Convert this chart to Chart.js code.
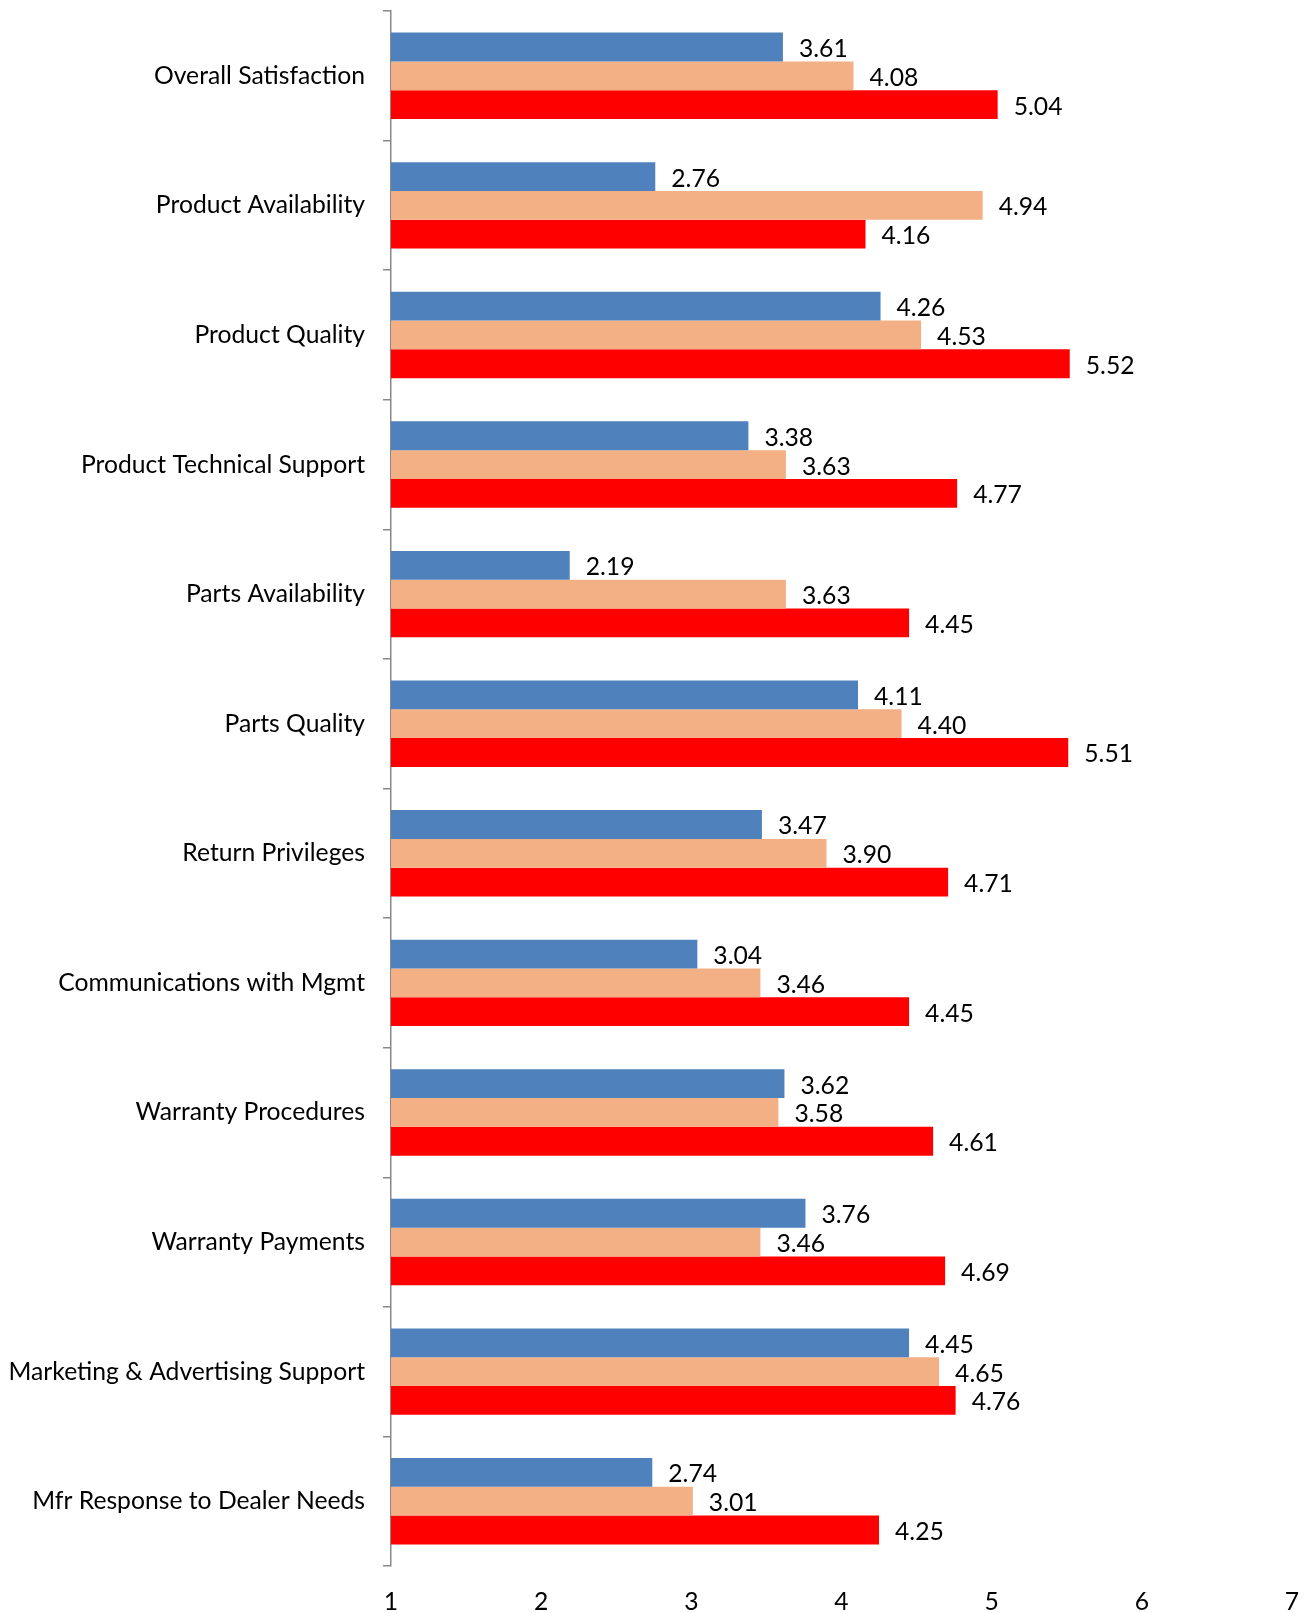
<!DOCTYPE html>
<html>
<head>
<meta charset="utf-8">
<script src="https://cdn.jsdelivr.net/npm/chart.js@4.4.1/dist/chart.umd.min.js"></script>
<style>
  html, body { margin: 0; padding: 0; background: #fff; }
  #wrap { width: 1309px; height: 1613px; }
</style>
</head>
<body>
<div id="wrap"><canvas id="satChart" width="1309" height="1613"></canvas></div>
<script>
const categories = [
  "Overall Satisfaction",
  "Product Availability",
  "Product Quality",
  "Product Technical Support",
  "Parts Availability",
  "Parts Quality",
  "Return Privileges",
  "Communications with Mgmt",
  "Warranty Procedures",
  "Warranty Payments",
  "Marketing & Advertising Support",
  "Mfr Response to Dealer Needs"
];
const seriesBlue = [3.61, 2.76, 4.26, 3.38, 2.19, 4.11, 3.47, 3.04, 3.62, 3.76, 4.45, 2.74];
const seriesPeach = [4.08, 4.94, 4.53, 3.63, 3.63, 4.40, 3.90, 3.46, 3.58, 3.46, 4.65, 3.01];
const seriesRed = [5.04, 4.16, 5.52, 4.77, 4.45, 5.51, 4.71, 4.45, 4.61, 4.69, 4.76, 4.25];
const xTicks = [1, 2, 3, 4, 5, 6, 7];

const FONT = "Lato, 'Open Sans', sans-serif";
const FONT_SIZE = 24.7;

// draws the value just past the end of each bar
const valueLabels = {
  id: "valueLabels",
  afterDatasetsDraw(chart) {
    const ctx = chart.ctx;
    ctx.save();
    ctx.font = `${FONT_SIZE}px ${FONT}`;
    ctx.fillStyle = "#000";
    ctx.textAlign = "left";
    ctx.textBaseline = "middle";
    chart.data.datasets.forEach((ds, i) => {
      chart.getDatasetMeta(i).data.forEach((bar, j) => {
        ctx.fillText(ds.data[j].toFixed(2), bar.x + 16, bar.y + 2);
      });
    });
    ctx.restore();
  }
};

const ctx = document.getElementById("satChart").getContext("2d");
new Chart(ctx, {
  type: "bar",
  data: {
    labels: categories,
    datasets: [
      { label: "A", data: seriesBlue, backgroundColor: "#4F81BD" },
      { label: "B", data: seriesPeach, backgroundColor: "#F3B084" },
      { label: "C", data: seriesRed, backgroundColor: "#FF0000" }
    ]
  },
  options: {
    indexAxis: "y",
    responsive: false,
    animation: false,
    layout: { padding: { top: 11, right: 17, left: 0, bottom: 0 } },
    plugins: { legend: { display: false }, tooltip: { enabled: false } },
    datasets: { bar: { categoryPercentage: 0.667, barPercentage: 1.0 } },
    scales: {
      x: {
        min: 1,
        max: 7,
        afterBuildTicks: (scale) => { scale.ticks = xTicks.map(v => ({ value: v })); },
        afterFit: (scale) => { scale.height = 47; scale.paddingLeft = 0; scale.paddingRight = 0; },
        grid: { display: false, drawTicks: false },
        border: { display: false },
        ticks: { color: "#000", padding: 21, font: { family: FONT, size: FONT_SIZE } }
      },
      y: {
        afterFit: (scale) => { scale.width = 391; scale.paddingTop = 0; scale.paddingBottom = 0; },
        grid: { display: true, drawOnChartArea: false, drawTicks: true, tickLength: 8, color: "#888", lineWidth: 1.5, offset: true },
        border: { display: true, color: "#888", width: 1.5 },
        ticks: { color: "#000", padding: 18, font: { family: FONT, size: FONT_SIZE } }
      }
    }
  },
  plugins: [valueLabels]
});
</script>
</body>
</html>
